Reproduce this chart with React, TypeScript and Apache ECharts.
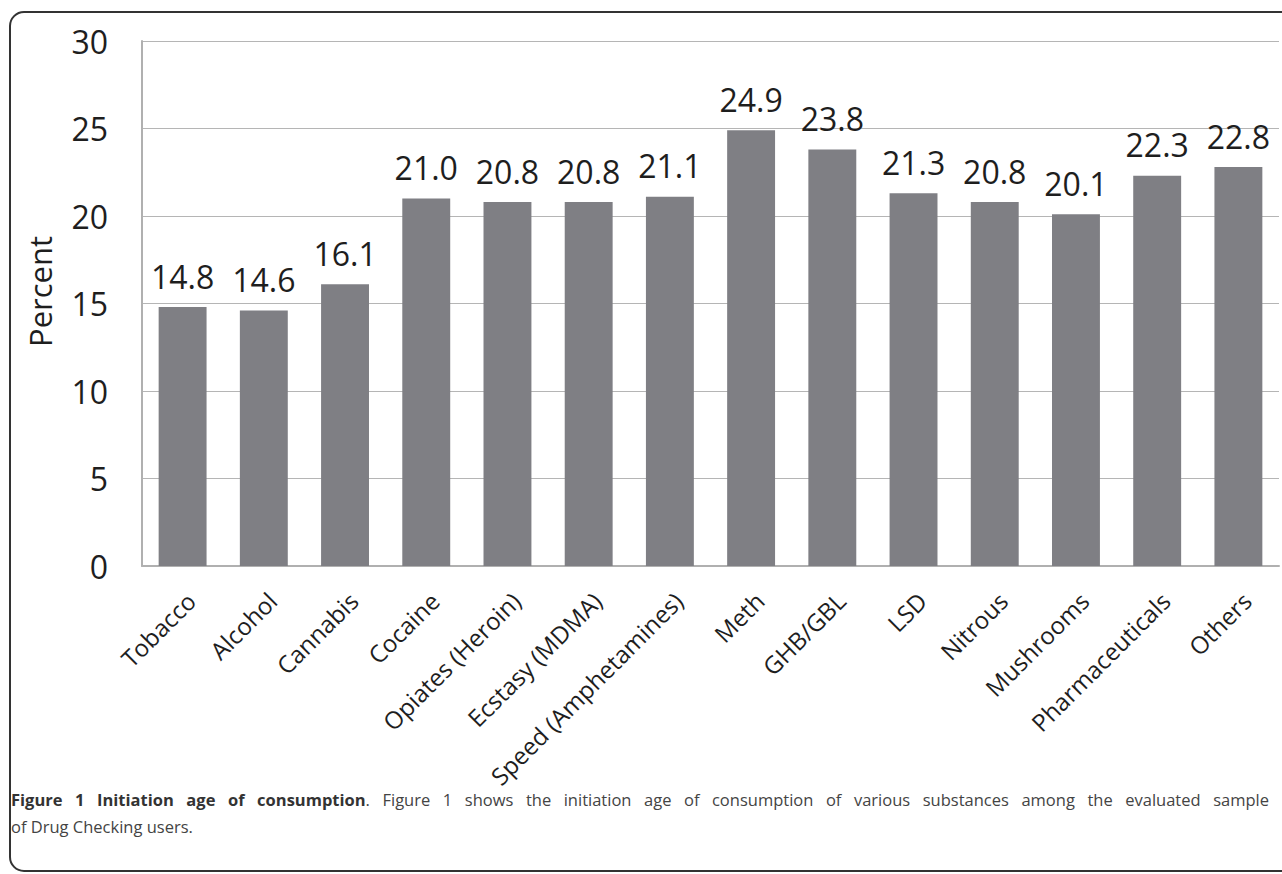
import React, { useEffect, useRef } from "react";
import * as echarts from "echarts";

const categories = [
  "Tobacco",
  "Alcohol",
  "Cannabis",
  "Cocaine",
  "Opiates (Heroin)",
  "Ecstasy (MDMA)",
  "Speed (Amphetamines)",
  "Meth",
  "GHB/GBL",
  "LSD",
  "Nitrous",
  "Mushrooms",
  "Pharmaceuticals",
  "Others",
];
const values = [14.8, 14.6, 16.1, 21.0, 20.8, 20.8, 21.1, 24.9, 23.8, 21.3, 20.8, 20.1, 22.3, 22.8];
const yTicks = [0, 5, 10, 15, 20, 25, 30];

const captionBold = "Figure 1 Initiation age of consumption";
const captionLine1 =
  ". Figure 1 shows the initiation age of consumption of various substances among the evaluated sample";
const captionLine2 = "of Drug Checking users.";

const FONT = "'Open Sans', 'Noto Sans', sans-serif";
const CAP_SIZE = 16.5;

function measure(text: string, weight: string) {
  const c = document.createElement("canvas").getContext("2d");
  if (!c) return text.length * CAP_SIZE * 0.5;
  c.font = `${weight} ${CAP_SIZE}px 'Open Sans', 'Noto Sans', sans-serif`;
  return c.measureText(text).width;
}

function buildJustified(targetWidth: number) {
  const boldWords = captionBold.split(" ");
  const restWords = captionLine1.split(" ");
  const firstRest = restWords.shift() as string;
  let sum = 0;
  boldWords.forEach((w) => (sum += measure(w, "bold")));
  sum += measure(firstRest, "normal");
  restWords.forEach((w) => (sum += measure(w, "normal")));
  const gaps = boldWords.length - 1 + restWords.length;
  const gap = Math.max(3, (targetWidth - sum) / gaps);
  const parts: string[] = [];
  boldWords.forEach((w, i) => {
    parts.push(`{b|${w}}`);
    if (i < boldWords.length - 1) parts.push("{g| }");
  });
  parts.push(`{n|${firstRest}}`);
  restWords.forEach((w) => {
    parts.push("{g| }");
    parts.push(`{n|${w}}`);
  });
  return { text: parts.join(""), gap };
}

export default function App() {
  const ref = useRef<HTMLDivElement>(null);
  useEffect(() => {
    if (!ref.current) return;
    const chart = echarts.init(ref.current, undefined, { renderer: "svg" });
    const just = buildJustified(1269 - 11);
    chart.setOption({
      animation: false,
      backgroundColor: "#ffffff",
      grid: { left: 142, top: 41, right: 3, bottom: 308, containLabel: false },
      xAxis: {
        type: "category",
        data: categories,
        axisLine: { show: true, lineStyle: { color: "#b0b0b0", width: 2 } },
        axisTick: { show: false },
        axisLabel: {
          rotate: 45,
          interval: 0,
          margin: 22,
          verticalAlign: "top",
          fontSize: 24,
          color: "#1e1e1e",
          fontFamily: FONT,
        },
      },
      yAxis: {
        type: "value",
        min: yTicks[0],
        max: yTicks[yTicks.length - 1],
        interval: 5,
        name: "Percent",
        nameLocation: "middle",
        nameGap: 87,
        nameTextStyle: {
          fontSize: 31,
          color: "#1e1e1e",
          fontFamily: FONT,
          padding: [0, 0, 0, 24],
        },
        axisLine: { show: true, lineStyle: { color: "#b0b0b0", width: 2 } },
        axisTick: { show: false },
        splitLine: { show: true, lineStyle: { color: "#b5b5b5", width: 1 } },
        axisLabel: {
          margin: 34,
          fontSize: 32,
          color: "#1e1e1e",
          fontFamily: FONT,
        },
      },
      series: [
        {
          type: "bar",
          data: values,
          barWidth: "59%",
          itemStyle: { color: "#7f7f84" },
          label: {
            show: true,
            position: "top",
            distance: 15,
            fontSize: 32,
            color: "#1e1e1e",
            fontFamily: FONT,
            formatter: (p: any) => Number(p.value).toFixed(1),
          },
        },
      ],
      graphic: [
        {
          type: "rect",
          shape: { x: 10, y: 12, width: 1400, height: 859, r: 14 },
          style: { fill: "none", stroke: "#333333", lineWidth: 2 },
          silent: true,
        },
        {
          type: "text",
          x: 11,
          y: 791,
          style: {
            text: just.text,
            fontSize: CAP_SIZE,
            fontFamily: FONT,
            fill: "#444444",
            rich: {
              b: { fontSize: CAP_SIZE, fontWeight: "bold", fontFamily: FONT, fill: "#333333" },
              n: { fontSize: CAP_SIZE, fontFamily: FONT, fill: "#444444" },
              g: { fontSize: CAP_SIZE, fontFamily: FONT, width: just.gap },
            },
          },
        },
        {
          type: "text",
          x: 11,
          y: 818,
          style: {
            text: captionLine2,
            fontSize: CAP_SIZE,
            fontFamily: FONT,
            fill: "#444444",
          },
        },
      ],
    });
    return () => chart.dispose();
  }, []);
  return (
    <div
      ref={ref}
      style={{ position: "fixed", left: 0, top: 0, width: 1282, height: 874 }}
    />
  );
}
